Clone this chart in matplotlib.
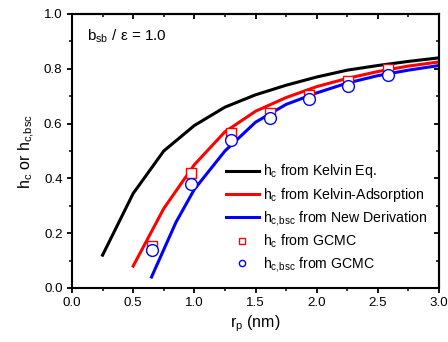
import matplotlib
matplotlib.use("Agg")
import matplotlib.pyplot as plt
from matplotlib.ticker import MultipleLocator

plt.rcParams['font.family'] = ['Liberation Sans', 'DejaVu Sans']
plt.rcParams['mathtext.fontset'] = 'custom'
plt.rcParams['mathtext.rm'] = 'Liberation Sans'
plt.rcParams['mathtext.it'] = 'Liberation Sans'

# Data
r_kelvin = [0.25, 0.5, 0.75, 1.0, 1.25, 1.5, 1.75, 2.0, 2.25, 2.5, 2.75, 3.0]
h_kelvin = [0.12, 0.345, 0.50, 0.593, 0.66, 0.705, 0.74, 0.77, 0.795, 0.812, 0.827, 0.84]

r_kads = [0.5, 0.75, 1.0, 1.25, 1.5, 1.75, 2.0, 2.25, 2.5, 2.75, 3.0]
h_kads = [0.08, 0.29, 0.45, 0.57, 0.645, 0.695, 0.735, 0.765, 0.79, 0.81, 0.825]

r_new = [0.65, 0.75, 0.85, 1.0, 1.25, 1.5, 1.75, 2.0, 2.25, 2.5, 2.75, 3.0]
h_new = [0.04, 0.14, 0.24, 0.36, 0.50, 0.605, 0.67, 0.712, 0.748, 0.775, 0.795, 0.812]

r_gcmc = [0.65, 0.975, 1.30, 1.62, 1.94, 2.26, 2.58]
hc_gcmc = [0.153, 0.42, 0.566, 0.639, 0.704, 0.755, 0.80]
hcbsc_gcmc = [0.139, 0.38, 0.54, 0.62, 0.69, 0.737, 0.777]

labels = [r"h$_\mathregular{c}$ from Kelvin Eq.",
          r"h$_\mathregular{c}$ from Kelvin-Adsorption",
          r"h$_\mathregular{c{,}bsc}$ from New Derivation",
          r"h$_\mathregular{c}$ from GCMC",
          r"h$_\mathregular{c{,}bsc}$ from GCMC"]

fig = plt.figure(figsize=(4.48, 3.42), dpi=100)
ax = fig.add_axes([72/448, 1-288/342, (439-72)/448, (288-14)/342])

lw = 2.2
l1, = ax.plot(r_kelvin, h_kelvin, color='black', lw=lw)
l2, = ax.plot(r_kads, h_kads, color='#ff0000', lw=lw)
l3, = ax.plot(r_new, h_new, color='#0000ff', lw=lw)
s1 = ax.scatter(r_gcmc, hc_gcmc, marker='s', s=50, facecolor='white', edgecolor='#ff0000', linewidths=1.0, zorder=3)
s2 = ax.scatter(r_gcmc, hcbsc_gcmc, marker='o', s=72, facecolor='white', edgecolor='#0000ff', linewidths=1.0, zorder=4)

ax.set_xlim(0, 3.0)
ax.set_ylim(0, 1.0)
ax.xaxis.set_major_locator(MultipleLocator(0.5))
ax.xaxis.set_minor_locator(MultipleLocator(0.25))
ax.yaxis.set_major_locator(MultipleLocator(0.2))
ax.yaxis.set_minor_locator(MultipleLocator(0.1))
ax.xaxis.set_major_formatter(plt.FormatStrFormatter('%.1f'))
ax.yaxis.set_major_formatter(plt.FormatStrFormatter('%.1f'))

for sp in ax.spines.values():
    sp.set_linewidth(1.5)
ax.tick_params(which='major', direction='out', length=3.8, width=1.3, labelsize=9.6, pad=3)
ax.tick_params(which='minor', direction='out', length=2.3, width=1.1)

axt = ax.secondary_xaxis('top')
axt.xaxis.set_major_locator(MultipleLocator(0.5))
axt.xaxis.set_minor_locator(MultipleLocator(0.25))
axt.tick_params(which='major', direction='in', length=3.8, width=1.3, labeltop=False)
axt.tick_params(which='minor', direction='in', length=2.3, width=1.1)
axt.spines['top'].set_linewidth(1.5)
axr = ax.secondary_yaxis('right')
axr.yaxis.set_major_locator(MultipleLocator(0.2))
axr.yaxis.set_minor_locator(MultipleLocator(0.1))
axr.tick_params(which='major', direction='in', length=3.8, width=1.3, labelright=False)
axr.tick_params(which='minor', direction='in', length=2.3, width=1.1)
axr.spines['right'].set_linewidth(1.5)

ax.set_xlabel(r"r$_\mathregular{p}$ (nm)", fontsize=11.5, labelpad=3)
ax.set_ylabel(r"h$_\mathregular{c}$ or h$_\mathregular{c{,}bsc}$", fontsize=11.5, labelpad=5)

ax.text(0.041, 0.92, r"b$_\mathregular{sb}$ / ε = 1.0", transform=ax.transAxes, fontsize=11, va='center')

s1l = plt.Line2D([], [], marker='s', ls='none', mfc='white', mec='#ff0000', ms=4, mew=1.0)
s2l = plt.Line2D([], [], marker='o', ls='none', mfc='white', mec='#0000ff', ms=4.5, mew=1.0)
leg = ax.legend([l1, l2, l3, s1l, s2l], labels, loc='lower left', bbox_to_anchor=(0.42, 0.05),
                frameon=False, fontsize=10.2, handlelength=2.3, handletextpad=0.3,
                labelspacing=0.36, borderpad=0, borderaxespad=0)

fig.savefig('out.png', dpi=100)
